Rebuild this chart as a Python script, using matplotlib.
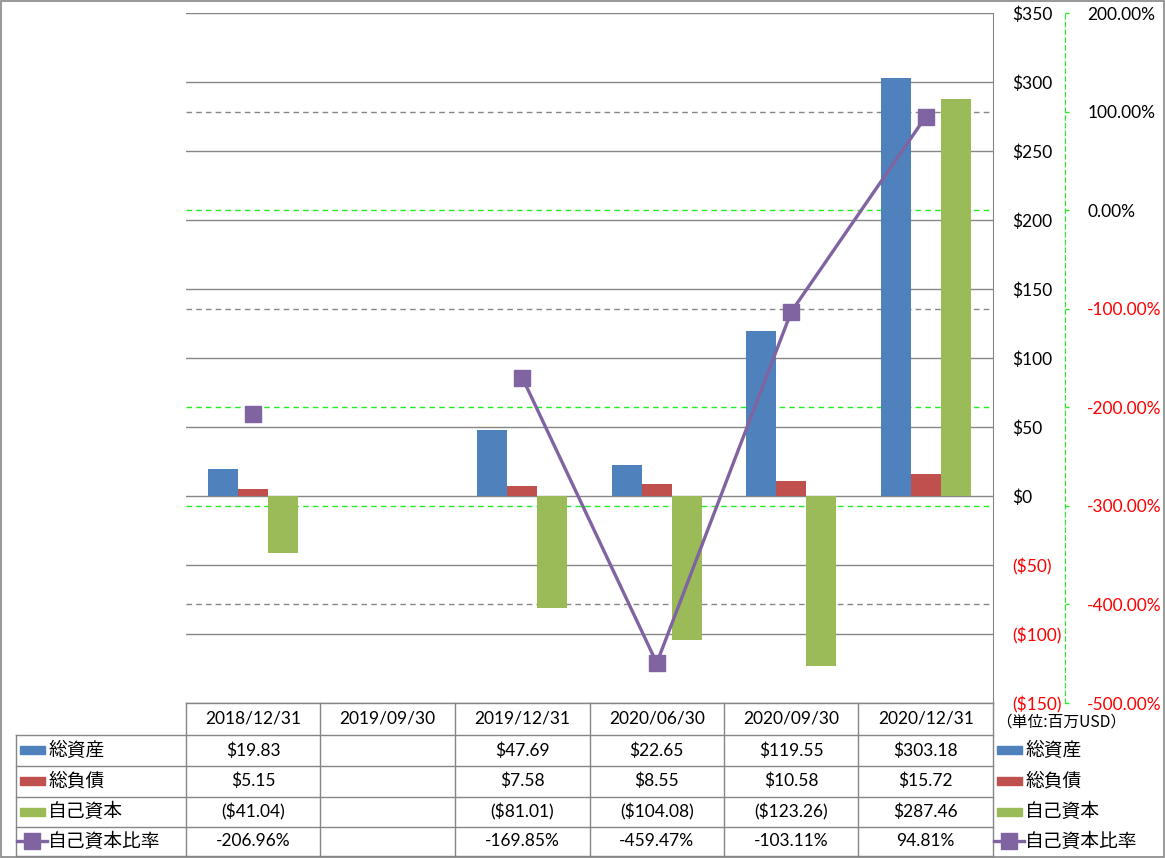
import numpy as np
import matplotlib
matplotlib.use("Agg")
import matplotlib.pyplot as plt
from matplotlib.lines import Line2D
from matplotlib.patches import Rectangle
import matplotlib.transforms as mtransforms

plt.rcParams['font.family'] = ['Lato', 'Noto Sans CJK JP', 'DejaVu Sans']

# ---------------- data ----------------
categories = ["2018/12/31", "2019/09/30", "2019/12/31", "2020/06/30", "2020/09/30", "2020/12/31"]
total_assets = [19.83, np.nan, 47.69, 22.65, 119.55, 303.18]
total_liab = [5.15, np.nan, 7.58, 8.55, 10.58, 15.72]
equity = [-41.04, np.nan, -81.01, -104.08, -123.26, 287.46]
equity_ratio = [-206.96, np.nan, -169.85, -459.47, -103.11, 94.81]
series_names = ["総資産", "総負債", "自己資本", "自己資本比率"]
unit_label = "（単位:百万USD）"
left_ticks = [-150, -100, -50, 0, 50, 100, 150, 200, 250, 300, 350]
right_ticks = [-500, -400, -300, -200, -100, 0, 100, 200]

# ---------------- style ----------------
W, H = 1165, 858
C_BLUE, C_RED, C_GREEN, C_PURPLE = "#4F81BD", "#C0504D", "#9BBB59", "#8064A2"
GRID = "#868686"
LIME = "#22EE22"
FS = 12.5
FS_JP = 13.5

def fx(x):
    return x / W

def fy(y):
    return 1 - y / H

def dollar(v):
    if np.isnan(v):
        return ""
    return f"(${abs(v):,.2f})" if v < 0 else f"${v:,.2f}"

def pct(v):
    if np.isnan(v):
        return ""
    return f"{v:.2f}%"

fig = plt.figure(figsize=(W / 100, H / 100), dpi=100)
ax_l, ax_r, ax_t, ax_b = 186, 993, 13, 703
ax = fig.add_axes([fx(ax_l), fy(ax_b), fx(ax_r - ax_l), (ax_b - ax_t) / H])
ax2 = ax.twinx()

x = np.arange(len(categories))
bw = 0.223
ax.bar(x - bw, total_assets, bw, color=C_BLUE, zorder=3)
ax.bar(x, total_liab, bw, color=C_RED, zorder=3)
ax.bar(x + bw, equity, bw, color=C_GREEN, zorder=3)

ax.set_xlim(-0.5, len(categories) - 0.5)
ax.set_ylim(-150, 350)
ax.set_xticks([])
ax.yaxis.tick_right()
for s in ["left", "top", "bottom"]:
    ax.spines[s].set_visible(False)
ax.spines["right"].set_color(GRID)
ax.set_yticks(left_ticks)
ax.set_yticklabels([("($%d)" % abs(t)) if t < 0 else ("$%d" % t) for t in left_ticks])
ax.tick_params(axis='y', length=0, pad=14, labelsize=FS)
for t, tk in zip(left_ticks, ax.yaxis.get_major_ticks()):
    for lab in (tk.label1, tk.label2):
        lab.set_color("red" if t < 0 else "black")
        lab.set_horizontalalignment("left")
ax.grid(axis='y', color=GRID, lw=1.0, zorder=0)
ax.set_axisbelow(True)

# secondary axis
ax2.plot(x, equity_ratio, color=C_PURPLE, lw=2.4, marker='s', ms=12, zorder=5)
ax2.set_ylim(-500, 200)
for s in ["left", "top", "bottom"]:
    ax2.spines[s].set_visible(False)
ax2.spines["right"].set_position(("outward", 72 * 0.72))
ax2.spines["right"].set_color(LIME)
ax2.spines["right"].set_linestyle((0, (4, 3)))
ax2.set_yticks(right_ticks)
ax2.set_yticklabels([pct(t) for t in right_ticks])
ax2.tick_params(axis='y', length=3, width=1, color=LIME, direction='out', pad=13, labelsize=FS)
for t, tk in zip(right_ticks, ax2.yaxis.get_major_ticks()):
    for lab in (tk.label1, tk.label2):
        lab.set_color("red" if t < 0 else "black")

# secondary gridlines drawn beneath bars
grid2_colors = {100: GRID, 0: LIME, -100: GRID, -200: LIME, -300: LIME, -400: GRID}
trans = mtransforms.blended_transform_factory(ax.transAxes, ax2.transData)
for v, c in grid2_colors.items():
    ax.add_line(Line2D([0, 1], [v, v], transform=trans, color=c, lw=1.0,
                       linestyle=(0, (4, 3)), zorder=1))

# ---------------- table ----------------
col_w = (ax_r - ax_l) / len(categories)
rows_y = [703, 735, 765.7, 796.7, 826.7, 855.7]

def fline(x0, y0, x1, y1, color=GRID, lw=1.0):
    fig.add_artist(Line2D([fx(x0), fx(x1)], [fy(y0), fy(y1)], color=color, lw=lw,
                          transform=fig.transFigure))

fline(ax_l, rows_y[0], ax_r, rows_y[0])
for yy in rows_y[1:]:
    fline(16, yy, ax_r, yy)
fline(16, rows_y[1], 16, rows_y[-1])
for i in range(len(categories) + 1):
    xx = ax_l + i * col_w
    fline(xx, rows_y[0], xx, rows_y[-1])

row_centers = [(rows_y[i] + rows_y[i + 1]) / 2 for i in range(5)]
row_values = [
    [dollar(v) for v in total_assets],
    [dollar(v) for v in total_liab],
    [dollar(v) for v in equity],
    [pct(v) for v in equity_ratio],
]
for i, cat in enumerate(categories):
    cx = ax_l + (i + 0.5) * col_w
    fig.text(fx(cx), fy(row_centers[0]), cat, ha='center', va='center', fontsize=FS)
    for r in range(4):
        fig.text(fx(cx), fy(row_centers[r + 1]), row_values[r][i], ha='center', va='center',
                 fontsize=FS)

# legend keys (in table row headers and right side)
colors = [C_BLUE, C_RED, C_GREEN]

def legend_key(x0, yc, idx):
    if idx < 3:
        fig.add_artist(Rectangle((fx(x0), fy(yc + 4)), fx(25), 8 / H, color=colors[idx],
                                 transform=fig.transFigure))
    else:
        fig.add_artist(Line2D([fx(x0 - 3), fx(x0 + 27)], [fy(yc), fy(yc)], color=C_PURPLE, lw=2.4,
                              transform=fig.transFigure))
        fig.add_artist(Line2D([fx(x0 + 12)], [fy(yc)], color=C_PURPLE, marker='s', ms=11,
                              lw=0, transform=fig.transFigure))

for r in range(4):
    yc = row_centers[r + 1]
    legend_key(20, yc, r)
    fig.text(fx(48), fy(yc), series_names[r], ha='left', va='center', fontsize=FS_JP,
             family=['Noto Sans CJK JP'])
    legend_key(997, yc, r)
    fig.text(fx(1025), fy(yc), series_names[r], ha='left', va='center', fontsize=FS_JP,
             family=['Noto Sans CJK JP'])

fig.text(fx(996), fy(722), unit_label, ha='left', va='center', fontsize=11.3,
         family=['Noto Sans CJK JP'])

# outer border
fig.add_artist(Rectangle((0.0005, 0.001), 0.999, 0.998, fill=False, edgecolor=GRID, lw=1.2,
                         transform=fig.transFigure))

fig.savefig("out.png", dpi=100)
